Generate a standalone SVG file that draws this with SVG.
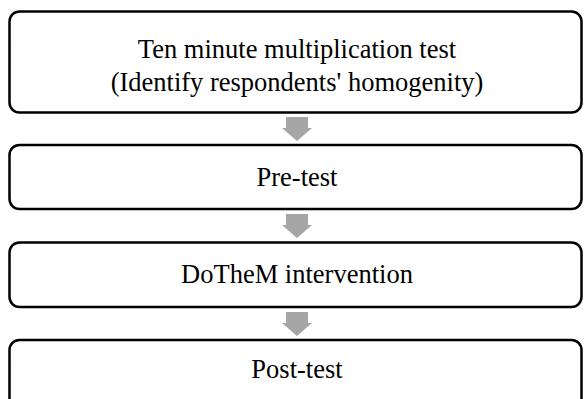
<svg xmlns="http://www.w3.org/2000/svg" width="584" height="399" viewBox="0 0 584 399">
<style>
.box{fill:#fff;stroke:#000;stroke-width:2.5}
.lbl{font-family:"Liberation Serif","Times New Roman",serif;font-size:26.5px;fill:#000;text-anchor:middle}
.arr{fill:#a6a6a6}
</style>
<rect width="584" height="399" fill="#fff"/>
<g id="connectors">
<polygon class="arr" points="286,117 308,117 308,128 312,128 297,141 282,128 286,128"/>
<polygon class="arr" points="286,214 308,214 308,225 312,225 297,238 282,225 286,225"/>
<polygon class="arr" points="286,312 308,312 308,323 312,323 297,336 282,323 286,323"/>
</g>
<g id="node1">
<rect class="box" x="9.5" y="11.5" width="572" height="101" rx="10"/>
<text class="lbl" x="297" y="58">Ten minute multiplication test</text>
<text class="lbl" x="297" y="91">(Identify respondents' homogenity)</text>
</g>
<g id="node2">
<rect class="box" x="9.5" y="145" width="572" height="64" rx="10"/>
<text class="lbl" x="297" y="186">Pre-test</text>
</g>
<g id="node3">
<rect class="box" x="9.5" y="242.5" width="572" height="64.5" rx="10"/>
<text class="lbl" x="297" y="283">DoTheM intervention</text>
</g>
<g id="node4">
<rect class="box" x="9.5" y="340" width="572" height="70" rx="10"/>
<text class="lbl" x="297" y="378">Post-test</text>
</g>
</svg>
